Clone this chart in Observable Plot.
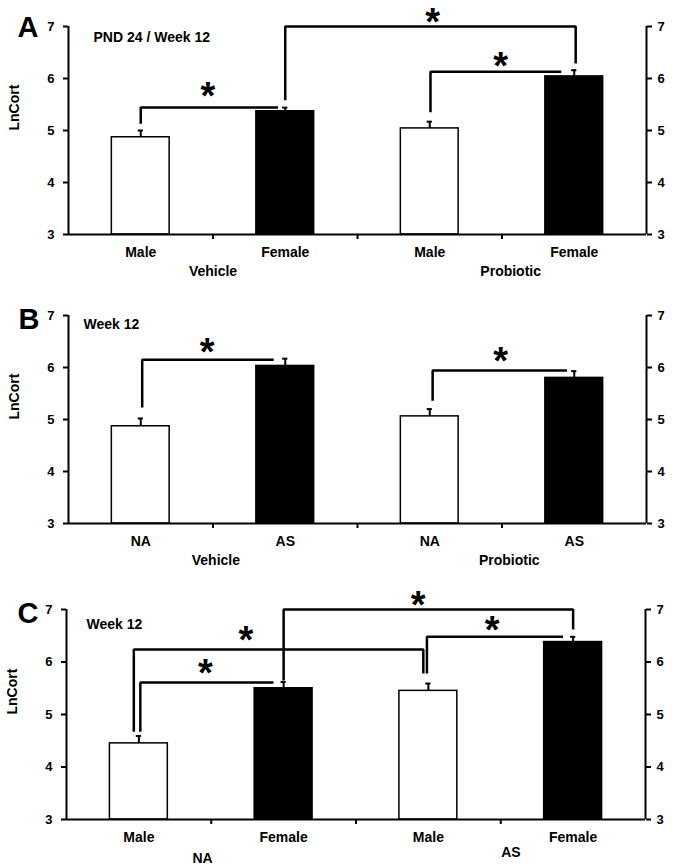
<!DOCTYPE html>
<html><head><meta charset="utf-8">
<script src="https://cdn.jsdelivr.net/npm/d3@7"></script>
<script src="https://cdn.jsdelivr.net/npm/@observablehq/plot@0.6"></script>
<style>
body{margin:0;background:#fff;}
#chart svg{display:block;}
</style></head><body><div id="chart"></div>
<script>
// ---------- shared ----------
const yTicks = [3, 4, 5, 6, 7];
const groupSeparators = [1, 2, 3];
const yLabel = "LnCort";

// ---------- Panel A ----------
const aLetter = "A";
const aTitle = "PND 24 / Week 12";
const aCategories = ["Male", "Female", "Male", "Female"];
const aGroups = ["Vehicle", "Probiotic"];
const aGroupPos = [1.0, 3.06];
const aMeans = [4.87, 5.37, 5.04, 6.04];
const aSE = [0.13, 0.07, 0.13, 0.12];
const aBrackets = [
  [[0.5, 5.13], [0.5, 5.44], [1.45, 5.44]],
  [[1.5, 5.58], [1.5, 7.0], [3.51, 7.0], [3.51, 6.29]],
  [[2.505, 5.35], [2.505, 6.13], [3.41, 6.13]]
];
const aStars = [[0.965, 5.79], [2.52, 7.22], [2.99, 6.37]];

// ---------- Panel B ----------
const bLetter = "B";
const bTitle = "Week 12";
const bCategories = ["NA", "AS", "NA", "AS"];
const bGroups = ["Vehicle", "Probiotic"];
const bGroupPos = [1.02, 3.05];
const bMeans = [4.87, 6.03, 5.06, 5.80];
const bSE = [0.15, 0.14, 0.14, 0.13];
const bBrackets = [
  [[0.51, 5.23], [0.51, 6.15], [1.42, 6.15]],
  [[2.52, 5.36], [2.52, 5.94], [3.45, 5.94]]
];
const bStars = [[0.96, 6.44], [2.99, 6.25]];

// ---------- Panel C ----------
const cLetter = "C";
const cTitle = "Week 12";
const cCategories = ["Male", "Female", "Male", "Female"];
const cGroups = ["NA", "AS"];
const cGroupPos = [0.94, 3.07];
const cMeans = [4.45, 5.50, 5.45, 6.38];
const cSE = [0.14, 0.12, 0.14, 0.10];
const cBrackets = [
  [[0.51, 4.67], [0.51, 5.61], [1.43, 5.61]],
  [[0.465, 4.67], [0.465, 6.24], [2.465, 6.24], [2.465, 5.78]],
  [[2.49, 5.78], [2.49, 6.48], [3.43, 6.48]],
  [[1.5, 5.65], [1.5, 7.0], [3.5, 7.0], [3.5, 6.62]]
];
const cStars = [[0.96, 5.92], [1.24, 6.56], [2.43, 7.22], [2.94, 6.75]];

const FONT = "'Liberation Sans', Arial, Helvetica, sans-serif";

function panel(p) {
  const bars = p.categories.map((c, i) => ({cat: c, pos: i + 0.5, mean: p.means[i], err: p.means[i] + p.se[i]}));
  const brackets = p.brackets.flatMap((pts, k) => pts.map(([x, y]) => ({x, y, k})));
  const stars = p.stars.map(([x, y]) => ({x, y}));
  const groups = p.groups.map((g, i) => ({g, x: p.groupPos[i]}));
  const groupMarks = groups.map((d, i) =>
    Plot.text([d], {x: "x", text: "g", frameAnchor: "bottom", lineAnchor: "middle",
      dy: p.groupDy[i], fontSize: 14, fontWeight: "bold"}));
  return Plot.plot({
    width: 673, height: p.height,
    marginTop: p.mt, marginBottom: p.mb, marginLeft: p.ml, marginRight: p.mr,
    x: {domain: [0, 4], axis: null, label: null},
    y: {domain: [3, 7], axis: null, label: null},
    color: {domain: ["Male", "Female", "NA", "AS"], range: ["white", "black", "white", "black"]},
    style: {fontFamily: FONT, fontWeight: "bold", fontSize: "13px", color: "black", background: "white", overflow: "visible"},
    marks: [
      Plot.rect(bars, {x1: d => d.pos - 0.2, x2: d => d.pos + 0.2, y1: 3, y2: "mean", fill: "cat", stroke: "black", strokeWidth: 1.5}),
      Plot.ruleX(bars, {x: "pos", y1: "mean", y2: "err", stroke: "black", strokeWidth: 2}),
      Plot.ruleY(bars, {y: "err", x1: d => d.pos - 0.018, x2: d => d.pos + 0.018, stroke: "black", strokeWidth: 2}),
      Plot.line(brackets, {x: "x", y: "y", z: "k", stroke: "black", strokeWidth: 2.5, strokeLinejoin: "miter", strokeLinecap: "butt"}),
      Plot.text(stars, {x: "x", y: "y", text: () => "*", fontSize: 38, fontWeight: "bold", lineAnchor: "top", dy: -7}),
      // axes
      Plot.ruleX([0, 4], {y1: 3, y2: 7, stroke: "black", strokeWidth: 2}),
      Plot.ruleY([3], {x1: 0, x2: 4, stroke: "black", strokeWidth: 2}),
      Plot.axisY(yTicks, {anchor: "left", tickSize: 5, tickPadding: 9, tickFormat: d3.format("d"), strokeWidth: 2, label: null, fontSize: 13, fontWeight: "bold"}),
      Plot.axisY(yTicks, {anchor: "right", tickSize: 5, tickPadding: 6, tickFormat: d3.format("d"), strokeWidth: 2, label: null, fontSize: 13, fontWeight: "bold"}),
      Plot.axisX(groupSeparators, {anchor: "bottom", tickSize: 5, tickFormat: () => "", strokeWidth: 2, label: null}),
      // labels
      Plot.text(bars, {x: "pos", text: "cat", frameAnchor: "bottom", lineAnchor: "middle", dy: 18, fontSize: 14, fontWeight: "bold"}),
      ...groupMarks,
      Plot.text([yLabel], {frameAnchor: "left", rotate: -90, dx: -54, fontSize: 14, fontWeight: "bold"}),
      Plot.text([p.letter], {frameAnchor: "top-left", textAnchor: "start", lineAnchor: "top", dx: p.letterDx, dy: p.letterDy, fontSize: 29, fontWeight: "bold"}),
      Plot.text([p.title], {frameAnchor: "top-left", textAnchor: "start", lineAnchor: "top", dx: p.titleDx, dy: p.titleDy, fontSize: 14, fontWeight: "bold"})
    ]
  });
}

const chart = document.getElementById("chart");
chart.append(panel({
  letter: aLetter, title: aTitle, categories: aCategories, groups: aGroups, groupPos: aGroupPos,
  means: aMeans, se: aSE, brackets: aBrackets, stars: aStars,
  height: 286, mt: 26, mb: 52, ml: 68, mr: 27,
  letterDx: -51, letterDy: -10, titleDx: 25, titleDy: 6, groupDy: [37, 37]
}));
chart.append(panel({
  letter: bLetter, title: bTitle, categories: bCategories, groups: bGroups, groupPos: bGroupPos,
  means: bMeans, se: bSE, brackets: bBrackets, stars: bStars,
  height: 290, mt: 29, mb: 53, ml: 68, mr: 27,
  letterDx: -50, letterDy: -7, titleDx: 15, titleDy: 4, groupDy: [37, 37]
}));
chart.append(panel({
  letter: cLetter, title: cTitle, categories: cCategories, groups: cGroups, groupPos: cGroupPos,
  means: cMeans, se: cSE, brackets: cBrackets, stars: cStars,
  height: 292, mt: 33, mb: 49, ml: 66, mr: 28,
  letterDx: -49, letterDy: -7, titleDx: 20, titleDy: 10, groupDy: [39, 33]
}));
</script></body></html>
